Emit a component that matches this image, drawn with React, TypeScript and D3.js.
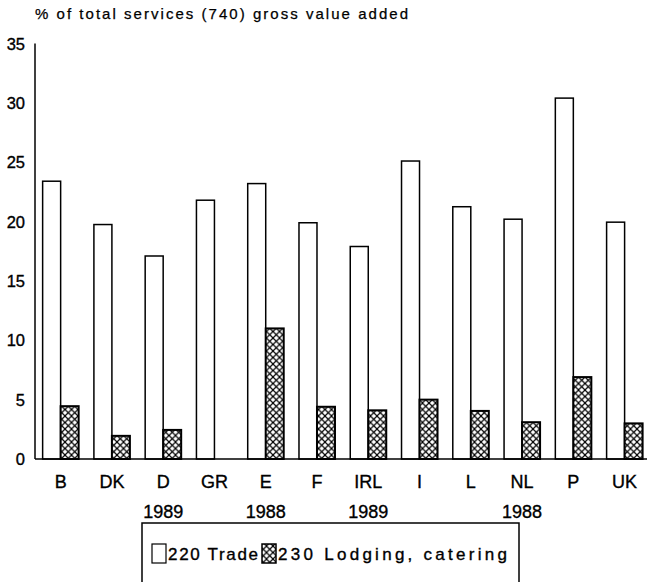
import React from "react";
import * as d3 from "d3";

const categories = ["B", "DK", "D", "GR", "E", "F", "IRL", "I", "L", "NL", "P", "UK"];
const tradeValues = [23.4, 19.75, 17.1, 21.8, 23.2, 19.9, 17.9, 25.1, 21.25, 20.2, 30.4, 19.95];
const lodgingValues: (number | null)[] = [4.45, 1.95, 2.45, null, 11.0, 4.4, 4.1, 5.0, 4.05, 3.1, 6.9, 3.0];
const yearLabels: { cat: string; year: string }[] = [
  { cat: "D", year: "1989" },
  { cat: "E", year: "1988" },
  { cat: "IRL", year: "1989" },
  { cat: "NL", year: "1988" },
];
const yTicks = [0, 5, 10, 15, 20, 25, 30, 35];
const seriesKeys = ["trade", "lodging"];
const titleText = "% of total services (740) gross value added";
const legendTrade = "220 Trade";
const legendLodging = "230 Lodging, catering";

const W = 647;
const H = 582;
const FONT = "'Liberation Sans', Arial, Helvetica, sans-serif";

export default function App() {
  const x0 = 35;
  const y0 = 459;
  const yTop = 43.5;
  const x = d3.scaleBand<string>().domain(categories).range([x0, x0 + 12 * 51.27]).paddingInner(0).paddingOuter(0);
  const xi = d3.scaleBand<string>().domain(seriesKeys).range([0, x.bandwidth()]).paddingInner(0).paddingOuter(0.424);
  const y = d3.scaleLinear().domain([0, 35]).range([y0, yTop]);
  const center = (c: string) => (x(c) as number) + (xi("lodging") as number);
  const txt = { fontFamily: FONT, fill: "#000", stroke: "#000", strokeWidth: 0.35 };

  return (
    <svg width={W} height={H} style={{ position: "absolute", left: 0, top: 0, background: "#fff" }}>
      <defs>
        <pattern id="xhatch" patternUnits="userSpaceOnUse" width={6.5} height={6.5}>
          <rect width={6.5} height={6.5} fill="#fff" />
          <path d="M-3.25,3.25L3.25,-3.25M0,6.5L6.5,0M3.25,9.75L9.75,3.25" stroke="#000" strokeWidth={1.2} />
          <path d="M-3.25,3.25L3.25,9.75M0,0L6.5,6.5M3.25,-3.25L9.75,3.25" stroke="#000" strokeWidth={1.2} />
        </pattern>
      </defs>
      <rect width={W} height={H} fill="#fff" />
      <text x={35} y={19} fontSize={15} textLength={373} lengthAdjust="spacing" {...txt} strokeWidth={0.25}>
        {titleText}
      </text>
      {yTicks.map((t) => (
        <text key={t} x={25} y={y(t)} textAnchor="end" dominantBaseline="central" fontSize={16.5} {...txt}>
          {t}
        </text>
      ))}
      {categories.map((c, i) => {
        const bx = x(c) as number;
        const lv = lodgingValues[i];
        return (
          <g key={c}>
            <rect
              x={bx + (xi("trade") as number)}
              y={y(tradeValues[i])}
              width={xi.bandwidth()}
              height={y0 - y(tradeValues[i])}
              fill="#fff"
              stroke="#000"
              strokeWidth={1.5}
            />
            {lv !== null && (
              <rect
                x={bx + (xi("lodging") as number)}
                y={y(lv)}
                width={xi.bandwidth()}
                height={y0 - y(lv)}
                fill="url(#xhatch)"
                stroke="#000"
                strokeWidth={2}
              />
            )}
          </g>
        );
      })}
      <line x1={x0} x2={x0} y1={yTop} y2={y0} stroke="#000" strokeWidth={1.5} />
      <line x1={x0} x2={W} y1={y0} y2={y0} stroke="#000" strokeWidth={1.5} />
      {categories.map((c) => (
        <text key={c} x={center(c)} y={488} textAnchor="middle" fontSize={18} {...txt}>
          {c}
        </text>
      ))}
      {yearLabels.map((d) => (
        <text key={d.cat} x={center(d.cat)} y={518} textAnchor="middle" fontSize={18} {...txt}>
          {d.year}
        </text>
      ))}
      <rect x={142} y={523} width={377} height={80} fill="none" stroke="#000" strokeWidth={1.5} />
      <rect x={152} y={544} width={14} height={19} fill="#fff" stroke="#000" strokeWidth={1.2} />
      <text x={168} y={560} fontSize={17} textLength={90} lengthAdjust="spacing" {...txt}>
        {legendTrade}
      </text>
      <rect x={262} y={544} width={14} height={19} fill="url(#xhatch)" stroke="#000" strokeWidth={1.5} />
      <text x={278} y={560} fontSize={17} textLength={229} lengthAdjust="spacing" {...txt}>
        {legendLodging}
      </text>
    </svg>
  );
}
